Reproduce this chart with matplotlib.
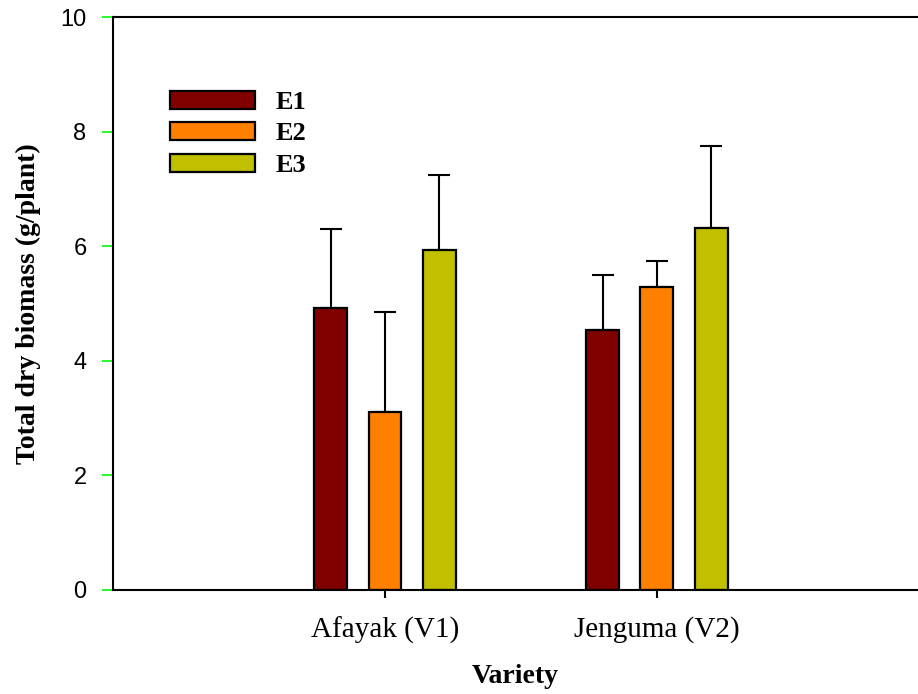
import numpy as np
import matplotlib
matplotlib.use("Agg")
import matplotlib.pyplot as plt

# data
varieties = ["Afayak (V1)", "Jenguma (V2)"]
series = ["E1", "E2", "E3"]
means = {
    "E1": [4.92, 4.54],
    "E2": [3.11, 5.29],
    "E3": [5.93, 6.31],
}
errors = {
    "E1": [1.38, 0.96],
    "E2": [1.74, 0.45],
    "E3": [1.31, 1.44],
}
colors = {"E1": "#800000", "E2": "#ff8000", "E3": "#c0c000"}

fig = plt.figure(figsize=(9.18, 6.94), dpi=100)
ax = fig.add_axes([0.1231, 0.1499, 0.8769, 0.8256])

x = np.arange(len(varieties))
width = 0.121
offsets = [-0.2, 0.0, 0.2]

for s, off in zip(series, offsets):
    ax.bar(x + off, means[s], width, color=colors[s], edgecolor="black",
           linewidth=1.6, label=s, zorder=2)
    ax.errorbar(x + off, means[s], yerr=[np.zeros(len(x)), errors[s]],
                fmt="none", ecolor="black", elinewidth=1.5, capsize=8,
                capthick=1.5, zorder=1)

ax.set_xlim(-1.0, 1.96)
ax.set_ylim(0, 10)
ax.set_yticks([0, 2, 4, 6, 8, 10])
ax.set_xticks(x)
ax.set_xticklabels(varieties, family="Liberation Serif", fontsize=21)
for lab in ax.get_yticklabels():
    lab.set_family("Liberation Sans")
    lab.set_fontsize(17)

ax.tick_params(axis="y", direction="out", length=8, width=1.2, color="#00ff00", pad=11)
ax.tick_params(axis="x", direction="out", length=6, width=1.5, color="black", pad=13)

for sp in ["left", "bottom", "top"]:
    ax.spines[sp].set_linewidth(1.5)
ax.spines["right"].set_visible(False)

ax.set_ylabel("Total dry biomass (g/plant)", family="Liberation Serif",
              fontweight="bold", fontsize=20, labelpad=14)
ax.set_xlabel("Variety", family="Liberation Serif", fontweight="bold",
              fontsize=20, labelpad=15)

leg = ax.legend(loc="upper left", bbox_to_anchor=(0.058, 0.89), frameon=False,
                prop={"family": "Liberation Serif", "weight": "bold", "size": 19},
                handlelength=3.2, handleheight=0.68, labelspacing=0.31,
                handletextpad=0.8, borderaxespad=0)

fig.savefig("out.png", dpi=100)
